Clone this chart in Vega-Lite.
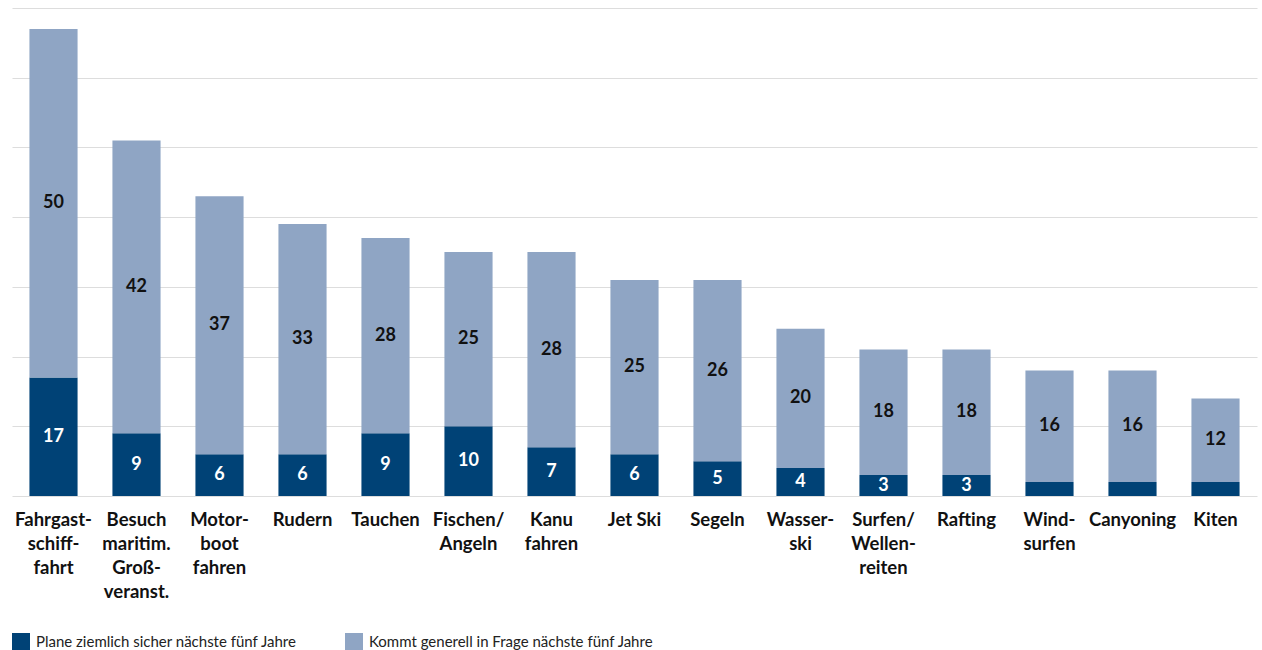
{
  "$schema": "https://vega.github.io/schema/vega-lite/v6.json",
  "autosize": {"type": "none"},
  "padding": {"left": 12, "top": 8, "right": 5, "bottom": 154},
  "width": 1245,
  "height": 488,
  "config": {
    "view": {"stroke": null},
    "font": "Lato"
  },
  "data": {
    "values": [
      {"cat": "Fahrgast-|schiff-|fahrt", "series": "Plane ziemlich sicher nächste fünf Jahre", "o": 1, "value": 17},
      {"cat": "Fahrgast-|schiff-|fahrt", "series": "Kommt generell in Frage nächste fünf Jahre", "o": 2, "value": 50},
      {"cat": "Besuch|maritim.|Groß-|veranst.", "series": "Plane ziemlich sicher nächste fünf Jahre", "o": 1, "value": 9},
      {"cat": "Besuch|maritim.|Groß-|veranst.", "series": "Kommt generell in Frage nächste fünf Jahre", "o": 2, "value": 42},
      {"cat": "Motor-|boot|fahren", "series": "Plane ziemlich sicher nächste fünf Jahre", "o": 1, "value": 6},
      {"cat": "Motor-|boot|fahren", "series": "Kommt generell in Frage nächste fünf Jahre", "o": 2, "value": 37},
      {"cat": "Rudern", "series": "Plane ziemlich sicher nächste fünf Jahre", "o": 1, "value": 6},
      {"cat": "Rudern", "series": "Kommt generell in Frage nächste fünf Jahre", "o": 2, "value": 33},
      {"cat": "Tauchen", "series": "Plane ziemlich sicher nächste fünf Jahre", "o": 1, "value": 9},
      {"cat": "Tauchen", "series": "Kommt generell in Frage nächste fünf Jahre", "o": 2, "value": 28},
      {"cat": "Fischen/|Angeln", "series": "Plane ziemlich sicher nächste fünf Jahre", "o": 1, "value": 10},
      {"cat": "Fischen/|Angeln", "series": "Kommt generell in Frage nächste fünf Jahre", "o": 2, "value": 25},
      {"cat": "Kanu|fahren", "series": "Plane ziemlich sicher nächste fünf Jahre", "o": 1, "value": 7},
      {"cat": "Kanu|fahren", "series": "Kommt generell in Frage nächste fünf Jahre", "o": 2, "value": 28},
      {"cat": "Jet Ski", "series": "Plane ziemlich sicher nächste fünf Jahre", "o": 1, "value": 6},
      {"cat": "Jet Ski", "series": "Kommt generell in Frage nächste fünf Jahre", "o": 2, "value": 25},
      {"cat": "Segeln", "series": "Plane ziemlich sicher nächste fünf Jahre", "o": 1, "value": 5},
      {"cat": "Segeln", "series": "Kommt generell in Frage nächste fünf Jahre", "o": 2, "value": 26},
      {"cat": "Wasser-|ski", "series": "Plane ziemlich sicher nächste fünf Jahre", "o": 1, "value": 4},
      {"cat": "Wasser-|ski", "series": "Kommt generell in Frage nächste fünf Jahre", "o": 2, "value": 20},
      {"cat": "Surfen/|Wellen-|reiten", "series": "Plane ziemlich sicher nächste fünf Jahre", "o": 1, "value": 3},
      {"cat": "Surfen/|Wellen-|reiten", "series": "Kommt generell in Frage nächste fünf Jahre", "o": 2, "value": 18},
      {"cat": "Rafting", "series": "Plane ziemlich sicher nächste fünf Jahre", "o": 1, "value": 3},
      {"cat": "Rafting", "series": "Kommt generell in Frage nächste fünf Jahre", "o": 2, "value": 18},
      {"cat": "Wind-|surfen", "series": "Plane ziemlich sicher nächste fünf Jahre", "o": 1, "value": 2},
      {"cat": "Wind-|surfen", "series": "Kommt generell in Frage nächste fünf Jahre", "o": 2, "value": 16},
      {"cat": "Canyoning", "series": "Plane ziemlich sicher nächste fünf Jahre", "o": 1, "value": 2},
      {"cat": "Canyoning", "series": "Kommt generell in Frage nächste fünf Jahre", "o": 2, "value": 16},
      {"cat": "Kiten", "series": "Plane ziemlich sicher nächste fünf Jahre", "o": 1, "value": 2},
      {"cat": "Kiten", "series": "Kommt generell in Frage nächste fünf Jahre", "o": 2, "value": 12}
    ]
  },
  "transform": [
    {"stack": "value", "groupby": ["cat"], "sort": [{"field": "o", "order": "ascending"}], "as": ["v0", "v1"]},
    {"calculate": "(datum.v0 + datum.v1) / 2", "as": "vmid"}
  ],
  "encoding": {
    "x": {
      "field": "cat", "type": "nominal", "sort": null,
      "scale": {"paddingInner": 0.42, "paddingOuter": 0.21},
      "axis": {
        "title": null, "domain": false, "ticks": false,
        "labelAngle": 0, "labelExpr": "split(datum.label, '|')",
        "labelFont": "Lato", "labelFontSize": 18.5, "labelFontWeight": "bold",
        "labelColor": "#111111", "labelLineHeight": 24, "labelPadding": 14,
        "labelBaseline": "top"
      }
    }
  },
  "layer": [
    {
      "mark": {"type": "bar"},
      "encoding": {
        "y": {"field": "v0", "type": "quantitative",
          "scale": {"domain": [0, 70], "nice": false},
          "axis": {"title": null, "labels": false, "ticks": false, "domain": false,
            "values": [0, 10, 20, 30, 40, 50, 60, 70],
            "gridColor": "#dddddd", "gridWidth": 1.2}},
        "y2": {"field": "v1"},
        "color": {
          "field": "series", "type": "nominal",
          "scale": {"domain": ["Plane ziemlich sicher nächste fünf Jahre", "Kommt generell in Frage nächste fünf Jahre"], "range": ["#004276", "#8fa5c4"]},
          "legend": {
            "title": null, "orient": "none", "legendX": 0, "legendY": 625,
            "direction": "horizontal", "symbolType": "square", "symbolSize": 324,
            "symbolStrokeWidth": 0, "symbolOpacity": 1, "labelFont": "Lato", "labelFontSize": 15,
            "labelColor": "#222222", "columnPadding": 48, "symbolOffset": 0, "labelOffset": 6,
            "labelLimit": 400
          }
        }
      }
    },
    {
      "transform": [{"filter": "datum.value >= 3"}],
      "mark": {"type": "text", "font": "Lato", "fontSize": 18, "fontWeight": "bold", "baseline": "middle", "align": "center"},
      "encoding": {
        "y": {"field": "vmid", "type": "quantitative", "axis": null},
        "text": {"field": "value", "type": "quantitative"},
        "color": {"condition": {"test": "datum.o == 1", "value": "#ffffff"}, "value": "#111111"}
      }
    }
  ],
  "resolve": {"axis": {"y": "independent"}}
}
